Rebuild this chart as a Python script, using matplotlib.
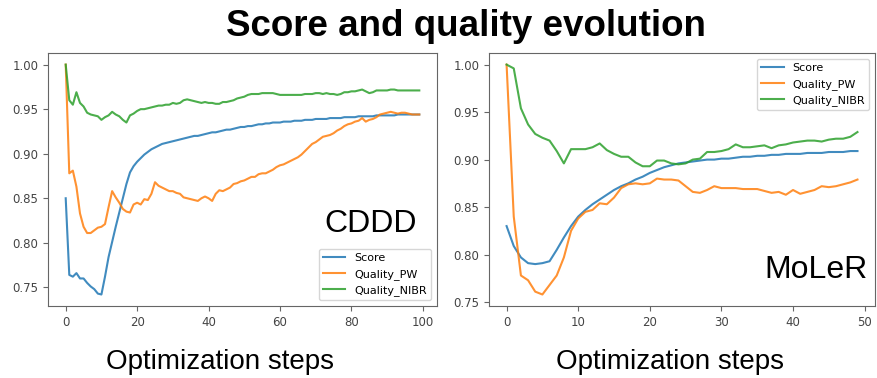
import matplotlib.pyplot as plt

# CDDD run (100 optimization steps)
cddd_score = [0.850, 0.764, 0.762, 0.766, 0.760, 0.760, 0.755, 0.751, 0.748, 0.743,
              0.742, 0.762, 0.784, 0.801, 0.818, 0.834, 0.850, 0.866, 0.879, 0.886,
              0.891, 0.895, 0.899, 0.902, 0.905, 0.907, 0.909, 0.911, 0.912, 0.913,
              0.914, 0.915, 0.916, 0.917, 0.918, 0.919, 0.920, 0.920, 0.921, 0.922,
              0.923, 0.924, 0.924, 0.925, 0.926, 0.927, 0.927, 0.928, 0.929, 0.930,
              0.930, 0.931, 0.931, 0.932, 0.933, 0.933, 0.934, 0.934, 0.935, 0.935,
              0.935, 0.936, 0.936, 0.936, 0.937, 0.937, 0.937, 0.938, 0.938, 0.938,
              0.939, 0.939, 0.939, 0.939, 0.940, 0.940, 0.940, 0.940, 0.941, 0.941,
              0.941, 0.941, 0.942, 0.942, 0.942, 0.942, 0.942, 0.943, 0.943, 0.943,
              0.943, 0.943, 0.943, 0.944, 0.944, 0.944, 0.944, 0.944, 0.944, 0.944]
cddd_pw = [1.000, 0.878, 0.881, 0.863, 0.833, 0.818, 0.811, 0.811, 0.814, 0.817,
           0.818, 0.821, 0.840, 0.858, 0.851, 0.845, 0.838, 0.835, 0.834, 0.843,
           0.845, 0.843, 0.849, 0.848, 0.855, 0.868, 0.864, 0.862, 0.860, 0.858,
           0.858, 0.856, 0.855, 0.851, 0.850, 0.849, 0.848, 0.847, 0.850, 0.852,
           0.850, 0.847, 0.855, 0.859, 0.858, 0.860, 0.862, 0.866, 0.867, 0.869,
           0.870, 0.872, 0.874, 0.874, 0.877, 0.878, 0.878, 0.880, 0.882, 0.885,
           0.887, 0.888, 0.890, 0.892, 0.894, 0.896, 0.899, 0.903, 0.907, 0.911,
           0.913, 0.916, 0.919, 0.920, 0.921, 0.923, 0.926, 0.928, 0.931, 0.933,
           0.934, 0.936, 0.937, 0.940, 0.936, 0.938, 0.939, 0.941, 0.944, 0.945,
           0.946, 0.947, 0.946, 0.945, 0.946, 0.946, 0.945, 0.944, 0.944, 0.944]
cddd_nibr = [1.000, 0.960, 0.955, 0.969, 0.957, 0.953, 0.946, 0.944, 0.943, 0.942,
             0.938, 0.941, 0.943, 0.947, 0.944, 0.942, 0.938, 0.935, 0.943, 0.945,
             0.948, 0.950, 0.950, 0.951, 0.952, 0.953, 0.954, 0.954, 0.955, 0.955,
             0.957, 0.956, 0.957, 0.960, 0.961, 0.960, 0.959, 0.958, 0.957, 0.958,
             0.957, 0.957, 0.956, 0.956, 0.958, 0.958, 0.959, 0.960, 0.962, 0.963,
             0.964, 0.966, 0.967, 0.967, 0.967, 0.968, 0.968, 0.968, 0.968, 0.967,
             0.966, 0.966, 0.966, 0.966, 0.966, 0.966, 0.966, 0.967, 0.967, 0.967,
             0.968, 0.968, 0.967, 0.968, 0.967, 0.967, 0.966, 0.967, 0.969, 0.969,
             0.970, 0.970, 0.971, 0.972, 0.970, 0.968, 0.969, 0.971, 0.971, 0.971,
             0.971, 0.972, 0.972, 0.971, 0.971, 0.971, 0.971, 0.971, 0.971, 0.971]

# MoLeR run (50 optimization steps)
moler_score = [0.830, 0.809, 0.797, 0.791, 0.790, 0.791, 0.793, 0.805, 0.818, 0.830,
               0.840, 0.847, 0.853, 0.858, 0.863, 0.868, 0.872, 0.875, 0.879, 0.882,
               0.886, 0.889, 0.892, 0.894, 0.896, 0.897, 0.898, 0.899, 0.900, 0.900,
               0.901, 0.901, 0.902, 0.903, 0.903, 0.904, 0.904, 0.905, 0.905, 0.906,
               0.906, 0.906, 0.907, 0.907, 0.907, 0.908, 0.908, 0.908, 0.909, 0.909]
moler_pw = [1.000, 0.840, 0.778, 0.773, 0.761, 0.758, 0.768, 0.778, 0.797, 0.825,
            0.838, 0.845, 0.847, 0.854, 0.853, 0.860, 0.870, 0.874, 0.875, 0.874,
            0.875, 0.880, 0.879, 0.879, 0.878, 0.872, 0.866, 0.865, 0.868, 0.872,
            0.870, 0.870, 0.870, 0.869, 0.869, 0.869, 0.867, 0.865, 0.866, 0.863,
            0.868, 0.864, 0.866, 0.868, 0.872, 0.871, 0.872, 0.874, 0.876, 0.879]
moler_nibr = [1.000, 0.996, 0.954, 0.937, 0.927, 0.923, 0.920, 0.909, 0.896, 0.911,
              0.911, 0.911, 0.913, 0.917, 0.910, 0.906, 0.903, 0.903, 0.897, 0.893,
              0.893, 0.899, 0.899, 0.896, 0.895, 0.896, 0.900, 0.901, 0.908, 0.908,
              0.909, 0.911, 0.916, 0.913, 0.913, 0.914, 0.915, 0.912, 0.915, 0.916,
              0.918, 0.919, 0.920, 0.920, 0.919, 0.921, 0.922, 0.922, 0.924, 0.929]

series_names = ['Score', 'Quality_PW', 'Quality_NIBR']
colors = ['#1f77b4', '#ff7f0e', '#2ca02c']

fig = plt.figure(figsize=(8.78, 3.78), dpi=100)
ax1 = fig.add_axes([0.0547, 0.1905, 0.443, 0.669])
ax2 = fig.add_axes([0.557, 0.1905, 0.4396, 0.669])

for ax, data in [(ax1, [cddd_score, cddd_pw, cddd_nibr]),
                 (ax2, [moler_score, moler_pw, moler_nibr])]:
    for vals, name, c in zip(data, series_names, colors):
        ax.plot(range(len(vals)), vals, color=c, lw=1.5, alpha=0.85, label=name)
    for sp in ax.spines.values():
        sp.set_color('#666666')
    ax.tick_params(labelsize=8.5, colors='#666666', labelcolor='#444444')

ax1.set_xticks([0, 20, 40, 60, 80, 100])
ax1.set_yticks([0.75, 0.80, 0.85, 0.90, 0.95, 1.00])
ax2.set_xticks([0, 10, 20, 30, 40, 50])
ax2.set_yticks([0.75, 0.80, 0.85, 0.90, 0.95, 1.00])

ax1.legend(loc='lower right', fontsize=8)
ax2.legend(loc='upper right', fontsize=8)

fig.text(0.531, 0.905, 'Score and quality evolution', ha='center', va='baseline',
         fontsize=26.5, fontweight='bold', family='Liberation Sans')
fig.text(0.475, 0.386, 'CDDD', ha='right', va='baseline', fontsize=23, family='Liberation Sans')
fig.text(0.9886, 0.265, 'MoLeR', ha='right', va='baseline', fontsize=23, family='Liberation Sans')
fig.text(0.251, 0.024, 'Optimization steps', ha='center', va='baseline', fontsize=20,
         family='Liberation Sans')
fig.text(0.763, 0.024, 'Optimization steps', ha='center', va='baseline', fontsize=20,
         family='Liberation Sans')

fig.savefig('out.png', dpi=100)
